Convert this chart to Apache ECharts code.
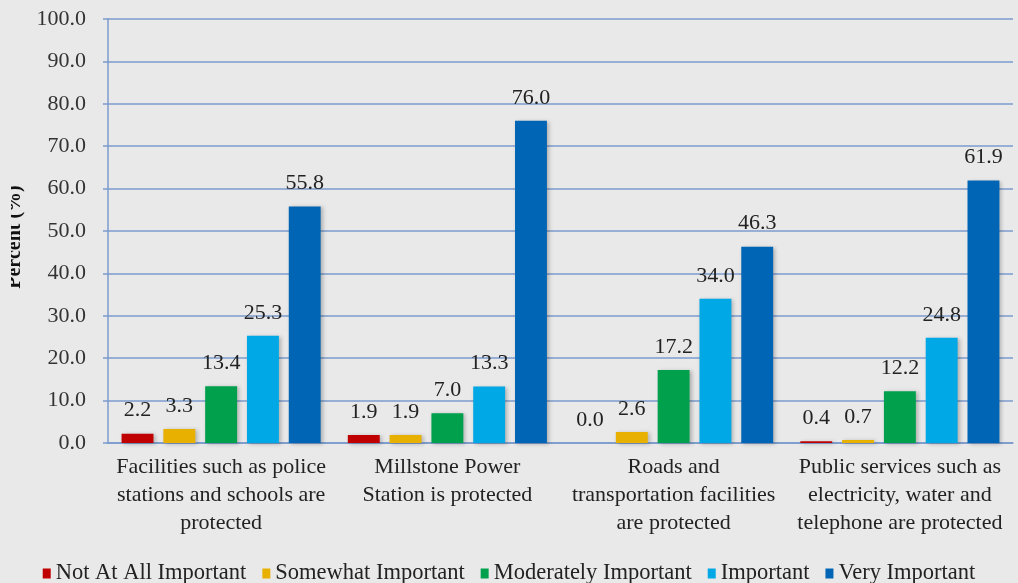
<!DOCTYPE html>
<html>
<head>
<meta charset="utf-8">
<script src="https://cdn.jsdelivr.net/npm/echarts@6/dist/echarts.min.js"></script>
<style>
  html, body { margin: 0; padding: 0; background: #e9e9e9; overflow: hidden; }
  /* Visible frame starts 11px in from the page edge; the chart inside is
     shifted back so its coordinates line up with the page, which crops
     the rotated axis title on its left side. */
  #frame { position: absolute; left: 11px; top: 0; width: 1007px; height: 583px; overflow: hidden; }
  #chart { position: absolute; left: -11px; top: 0; width: 1018px; height: 583px; }
</style>
</head>
<body>
<div id="frame"><div id="chart"></div></div>
<script>
// Survey categories along the x axis
const categories = [
  'Facilities such as police\nstations and schools are\nprotected',
  'Millstone Power\nStation is protected',
  'Roads and\ntransportation facilities\nare protected',
  'Public services such as\nelectricity, water and\ntelephone are protected'
];

// Response shares (%) per importance level
const notAtAllImportant   = [2.2, 1.9, 0.0, 0.4];
const somewhatImportant   = [3.3, 1.9, 2.6, 0.7];
const moderatelyImportant = [13.4, 7.0, 17.2, 12.2];
const important           = [25.3, 13.3, 34.0, 24.8];
const veryImportant       = [55.8, 76.0, 46.3, 61.9];

const seriesNames = ['Not At All Important', 'Somewhat Important', 'Moderately Important', 'Important', 'Very Important'];
const seriesData = [notAtAllImportant, somewhatImportant, moderatelyImportant, important, veryImportant];
const seriesColors = ['#c00000', '#e8b000', '#00a04c', '#00a8e6', '#0065b4'];

const font = '"Liberation Serif", "DejaVu Serif", serif';
const blueLine = '#7b9bcc';

const chart = echarts.init(document.getElementById('chart'));

chart.setOption({
  backgroundColor: '#e9e9e9',
  animation: false,
  textStyle: { fontFamily: font },
  grid: { left: 108, right: 5, top: 19, bottom: 140, outerBoundsMode: 'none' },
  legend: {
    top: 557,
    left: 'center',
    itemWidth: 8,
    itemHeight: 10,
    itemGap: 16,
    icon: 'rect',
    textStyle: { fontFamily: font, fontSize: 22.5, color: '#222' },
    data: seriesNames
  },
  xAxis: {
    type: 'category',
    data: categories,
    axisLine: { lineStyle: { color: blueLine, width: 1.5 } },
    axisTick: { show: false },
    axisLabel: {
      interval: 0,
      margin: 10,
      fontFamily: font,
      fontSize: 22,
      lineHeight: 28,
      color: '#222'
    }
  },
  yAxis: {
    type: 'value',
    min: 0,
    max: 100,
    interval: 10,
    name: 'Percent (%)',
    nameLocation: 'middle',
    nameGap: 83,
    nameTextStyle: {
      fontFamily: font, fontSize: 20, fontWeight: 'bold', color: '#111',
      padding: [0, 12, 0, 0]
    },
    axisLine: { show: true, lineStyle: { color: blueLine, width: 1.5 } },
    axisTick: { show: true, inside: false, length: 5, lineStyle: { color: blueLine, width: 1.5 } },
    splitLine: { lineStyle: { color: blueLine, width: 1.5 } },
    axisLabel: {
      margin: 22,
      fontFamily: font,
      fontSize: 22,
      color: '#333',
      formatter: v => v.toFixed(1)
    }
  },
  series: seriesNames.map((name, i) => ({
    name,
    type: 'bar',
    data: seriesData[i],
    barGap: '31%',
    barCategoryGap: '12%',
    itemStyle: {
      color: seriesColors[i],
      shadowColor: 'rgba(0,0,0,0.25)',
      shadowBlur: 4,
      shadowOffsetX: 2,
      shadowOffsetY: 1
    },
    label: {
      show: true,
      position: 'top',
      distance: 12,
      fontFamily: font,
      fontSize: 22,
      color: '#222',
      formatter: p => p.value.toFixed(1)
    }
  }))
});
</script>
</body>
</html>
